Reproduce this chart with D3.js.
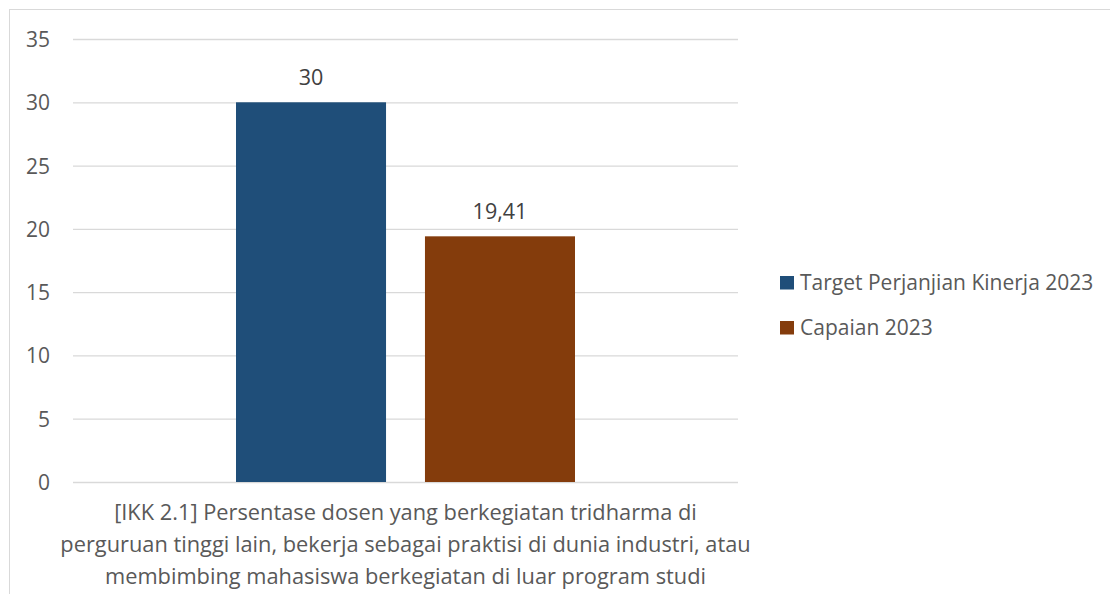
<!DOCTYPE html>
<html>
<head>
<meta charset="utf-8">
<script src="https://cdn.jsdelivr.net/npm/d3@7"></script>
<style>
  body { margin: 0; background: #fff; }
  text { font-family: "Open Sans", sans-serif; }
</style>
</head>
<body>
<div id="chart"></div>
<script>
const categories = ["[IKK 2.1] Persentase dosen yang berkegiatan tridharma di perguruan tinggi lain, bekerja sebagai praktisi di dunia industri, atau membimbing mahasiswa berkegiatan di luar program studi"];
const categoryLines = [
  "[IKK 2.1] Persentase dosen yang berkegiatan tridharma di",
  "perguruan tinggi lain, bekerja sebagai praktisi di dunia industri, atau",
  "membimbing mahasiswa berkegiatan di luar program studi"
];
const seriesNames = ["Target Perjanjian Kinerja 2023", "Capaian 2023"];
const seriesValues = [30, 19.41];
const seriesLabels = ["30", "19,41"];
const seriesColors = ["#1F4E79", "#843C0C"];
const yTicks = [0, 5, 10, 15, 20, 25, 30, 35];

const width = 1110, height = 594;
const svg = d3.select("#chart").append("svg")
  .attr("width", width).attr("height", height);

// chart area border
svg.append("rect")
  .attr("x", 9.5).attr("y", 9.5)
  .attr("width", width + 10).attr("height", height + 10)
  .attr("fill", "none").attr("stroke", "#D9D9D9");

const plot = { left: 73, right: 738, top: 39, bottom: 482 };

const y = d3.scaleLinear().domain([0, 35]).range([plot.bottom, plot.top]);
const x0 = d3.scaleBand().domain(categories).range([plot.left, plot.right]);
const x1 = d3.scaleBand().domain(seriesNames)
  .range([x0(categories[0]) + 163, x0(categories[0]) + x0.bandwidth() - 163])
  .paddingInner(0.206);

// gridlines
svg.append("g").selectAll("line").data(yTicks).join("line")
  .attr("x1", plot.left).attr("x2", plot.right)
  .attr("y1", d => y(d) + 0.5).attr("y2", d => y(d) + 0.5)
  .attr("stroke", "#D9D9D9").attr("stroke-width", 1.3);

// y labels
const yAxis = d3.axisLeft(y).tickValues(yTicks).tickSize(0).tickPadding(0);
const ga = svg.append("g").attr("transform", `translate(50,0)`).call(yAxis);
ga.select(".domain").remove();
ga.selectAll("text").attr("fill", "#595959")
  .style("font-size", "21px").style("font-family", "'Open Sans', sans-serif")
  .attr("dy", "0.36em");

// bars
const bars = seriesNames.map((s, i) => ({ s, v: seriesValues[i], label: seriesLabels[i], c: seriesColors[i] }));
svg.append("g").selectAll("rect").data(bars).join("rect")
  .attr("x", d => x1(d.s)).attr("width", x1.bandwidth())
  .attr("y", d => y(d.v)).attr("height", d => y(0) - y(d.v))
  .attr("fill", d => d.c);

// data labels
svg.append("g").selectAll("text").data(bars).join("text")
  .attr("x", d => x1(d.s) + x1.bandwidth() / 2)
  .attr("y", d => y(d.v) - 17.5)
  .attr("text-anchor", "middle")
  .attr("fill", "#404040")
  .style("font-size", "21.5px")
  .text(d => d.label);

// category label
const cx = x0(categories[0]) + x0.bandwidth() / 2;
svg.append("g").selectAll("text").data(categoryLines).join("text")
  .attr("x", cx)
  .attr("y", (d, i) => 520 + i * 32)
  .attr("text-anchor", "middle")
  .attr("fill", "#595959")
  .style("font-size", "21.8px")
  .text(d => d);

// legend
const lg = svg.append("g").selectAll("g").data(bars).join("g")
  .attr("transform", (d, i) => `translate(780,${276 + i * 45})`);
lg.append("rect").attr("width", 14).attr("height", 13.5).attr("fill", d => d.c);
lg.append("text").attr("x", 20).attr("y", 14)
  .attr("fill", "#595959").style("font-size", "21px")
  .text(d => d.s);
</script>
</body>
</html>
